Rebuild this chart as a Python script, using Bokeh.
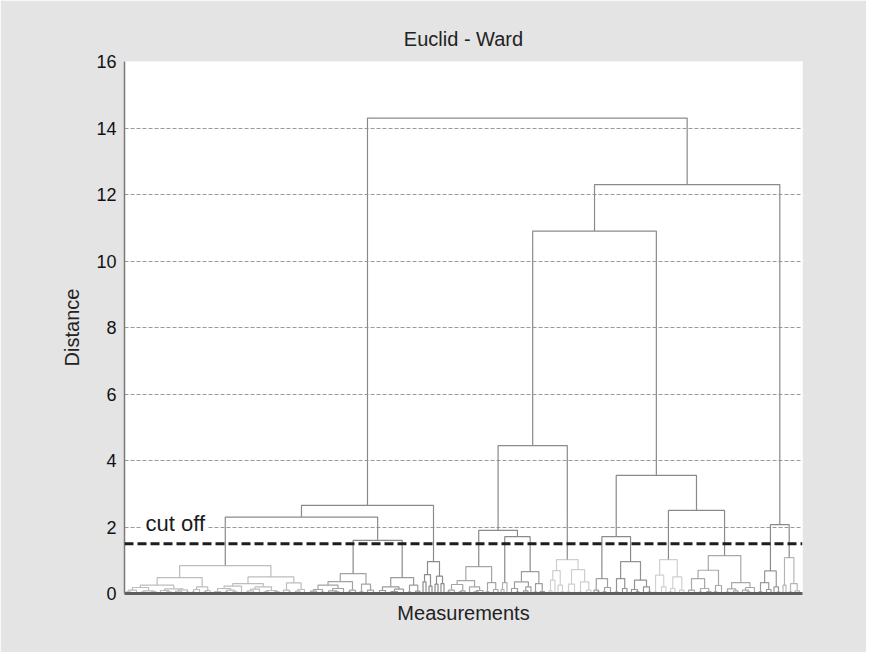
from bokeh.plotting import figure
from bokeh.models import Range1d, Span, Label, FixedTicker, ColumnDataSource
from bokeh.embed import file_html
from bokeh.resources import INLINE

title_text = "Euclid - Ward"
x_label = "Measurements"
y_label = "Distance"
cutoff = 1.5
cutoff_label = "cut off"
y_ticks = [0, 2, 4, 6, 8, 10, 12, 14, 16]

# merge height between each pair of neighbouring leaves (dendrogram order)
gaps_A = [0.05, 0.02, 0.10, 0.03, 0.18, 0.04, 0.02, 0.08, 0.03, 0.06,
          0.25,
          0.03, 0.09, 0.02, 0.05, 0.14, 0.02, 0.07, 0.03, 0.11, 0.04,
          0.48,
          0.04, 0.12, 0.03, 0.20, 0.05, 0.09,
          0.84,
          0.02, 0.06, 0.03, 0.15, 0.04, 0.10, 0.02, 0.05, 0.22, 0.03,
          0.30,
          0.04, 0.08, 0.02, 0.13, 0.03, 0.20, 0.05, 0.02, 0.09, 0.03, 0.06,
          0.50,
          0.03, 0.10, 0.04, 0.32, 0.02, 0.07, 0.12, 0.03]
gaps_B = [0.03, 0.07, 0.02, 0.12, 0.04, 0.25, 0.03, 0.08, 0.02, 0.05, 0.15, 0.03,
          0.36,
          0.04, 0.10, 0.02,
          0.60,
          0.05, 0.28, 0.03, 0.10, 0.02,
          1.60,
          0.03, 0.09, 0.02, 0.20, 0.04, 0.06, 0.02, 0.13, 0.03,
          0.48,
          0.04, 0.25, 0.02, 0.07]
gaps_C = [0.35, 0.57, 0.22, 0.96, 0.28, 0.52, 0.30]
gaps_P = [0.04, 0.10, 0.02, 0.27, 0.05, 0.08,
          0.39,
          0.03, 0.20, 0.05, 0.02, 0.09,
          0.81,
          0.05, 0.33, 0.03, 0.12,
          1.90,
          0.12, 0.33,
          1.71,
          0.03, 0.15, 0.04, 0.35, 0.02, 0.08, 0.20,
          0.66,
          0.04, 0.30, 0.06, 0.02]
gaps_Q = [0.08, 0.40, 0.69, 0.25, 0.05,
          1.02,
          0.05, 0.28, 0.03, 0.72, 0.04, 0.35, 0.02, 0.10]
gaps_S = [0.10, 0.04,
          0.45,
          0.05, 0.18, 0.03,
          1.71,
          0.04, 0.45, 0.02, 0.15,
          0.96,
          0.03, 0.12, 0.05, 0.40, 0.02, 0.20, 0.04]
gaps_T = [0.04, 0.55, 0.03, 0.20,
          1.02,
          0.05, 0.15, 0.50, 0.03, 0.10,
          2.50,
          0.03, 0.10, 0.02, 0.45, 0.04, 0.15, 0.02, 0.06,
          0.70,
          0.05, 0.24, 0.03,
          1.14,
          0.04, 0.14, 0.02, 0.08,
          0.33,
          0.03, 0.10, 0.05, 0.18, 0.02]
gaps_R2 = [0.05, 0.33, 0.03, 0.12,
           0.68,
           0.20, 0.04,
           2.07,
           0.25,
           1.08,
           0.05, 0.30, 0.08, 0.03]
join_heights = [2.30, 2.65, 14.30, 4.45, 10.90, 3.55, 12.30]

cluster_grays = ["#bdbdbd", "#a3a3a3", "#9a9a9a", "#8c8c8c", "#a6a6a6", "#b0b0b0",
                 "#9c9c9c", "#cfcfcf", "#a0a0a0", "#929292", "#d0d0d0", "#a8a8a8",
                 "#999999", "#b6b6b6"]
above_color = "#8a8a8a"

groups = [gaps_A, gaps_B, gaps_C, gaps_P, gaps_Q, gaps_S, gaps_T, gaps_R2]
gaps = []
for i, g in enumerate(groups):
    gaps.extend(g)
    if i < len(join_heights):
        gaps.append(join_heights[i])
n_leaves = len(gaps) + 1

xs, ys, cols = [], [], []
counter = [0]


def build(lo, hi, col):
    if lo == hi:
        return lo + 0.5, 0.0
    k = max(range(lo, hi), key=lambda j: gaps[j])
    h = gaps[k]
    if col is None and h < cutoff:
        col = cluster_grays[counter[0] % len(cluster_grays)]
        counter[0] += 1
    lx, ly = build(lo, k, col)
    rx, ry = build(k + 1, hi, col)
    xs.append([lx, lx, rx, rx])
    ys.append([ly, h, h, ry])
    cols.append(col if col is not None else above_color)
    return (lx + rx) / 2.0, h


build(0, n_leaves - 1, None)
src = ColumnDataSource(dict(xs=xs, ys=ys, color=cols))

FONT = "Liberation Sans"
p = figure(width=866, height=652, x_range=Range1d(0, n_leaves), y_range=Range1d(0, 16),
           output_backend="svg", toolbar_location=None,
           min_border_left=124, min_border_right=64, min_border_top=61, min_border_bottom=59,
           background_fill_color="white", border_fill_color="#e4e4e4")
p.outline_line_color = None

p.title.text = title_text
p.title.align = "center"
p.title.text_font = FONT
p.title.text_font_size = "20px"
p.title.text_font_style = "normal"
p.title.text_color = "#222222"
p.title.standoff = 23

p.xgrid.visible = False
p.ygrid.ticker = FixedTicker(ticks=y_ticks)
p.ygrid.grid_line_dash = "4 2"
p.ygrid.grid_line_color = "#9a9a9a"
p.ygrid.grid_line_width = 1

p.yaxis.ticker = FixedTicker(ticks=y_ticks)
p.yaxis.major_label_text_font = FONT
p.yaxis.major_label_text_font_size = "18px"
p.yaxis.major_label_text_color = "#111111"
p.yaxis.major_label_standoff = 2
p.yaxis.major_tick_line_color = None
p.yaxis.minor_tick_line_color = None
p.yaxis.axis_line_color = "#7a7a7a"
p.yaxis.axis_line_width = 1.5
p.yaxis.axis_label = y_label
p.yaxis.axis_label_text_font = FONT
p.yaxis.axis_label_text_font_size = "20px"
p.yaxis.axis_label_text_font_style = "normal"
p.yaxis.axis_label_text_color = "#222222"
p.yaxis.axis_label_standoff = 10

p.xaxis.ticker = FixedTicker(ticks=[])
p.xaxis.major_tick_line_color = None
p.xaxis.minor_tick_line_color = None
p.xaxis.major_label_standoff = 0
p.xaxis.axis_line_color = "#5e5e5e"
p.xaxis.axis_line_width = 3
p.xaxis.axis_label = x_label
p.xaxis.axis_label_text_font = FONT
p.xaxis.axis_label_text_font_size = "20px"
p.xaxis.axis_label_text_font_style = "normal"
p.xaxis.axis_label_text_color = "#222222"
p.xaxis.axis_label_standoff = 8

p.multi_line(xs="xs", ys="ys", line_color="color", line_width=1.2, source=src)

p.add_layout(Span(location=cutoff, dimension="width", line_color="#1e1e1e",
                  line_width=3, line_dash="9 4"))
p.add_layout(Label(x=6, y=2.1, text=cutoff_label, text_baseline="middle",
                   text_font=FONT, text_font_size="22px", text_color="#1a1a1a",
                   background_fill_color="white", padding=3))

open("out.html", "w").write(file_html(p, INLINE))
